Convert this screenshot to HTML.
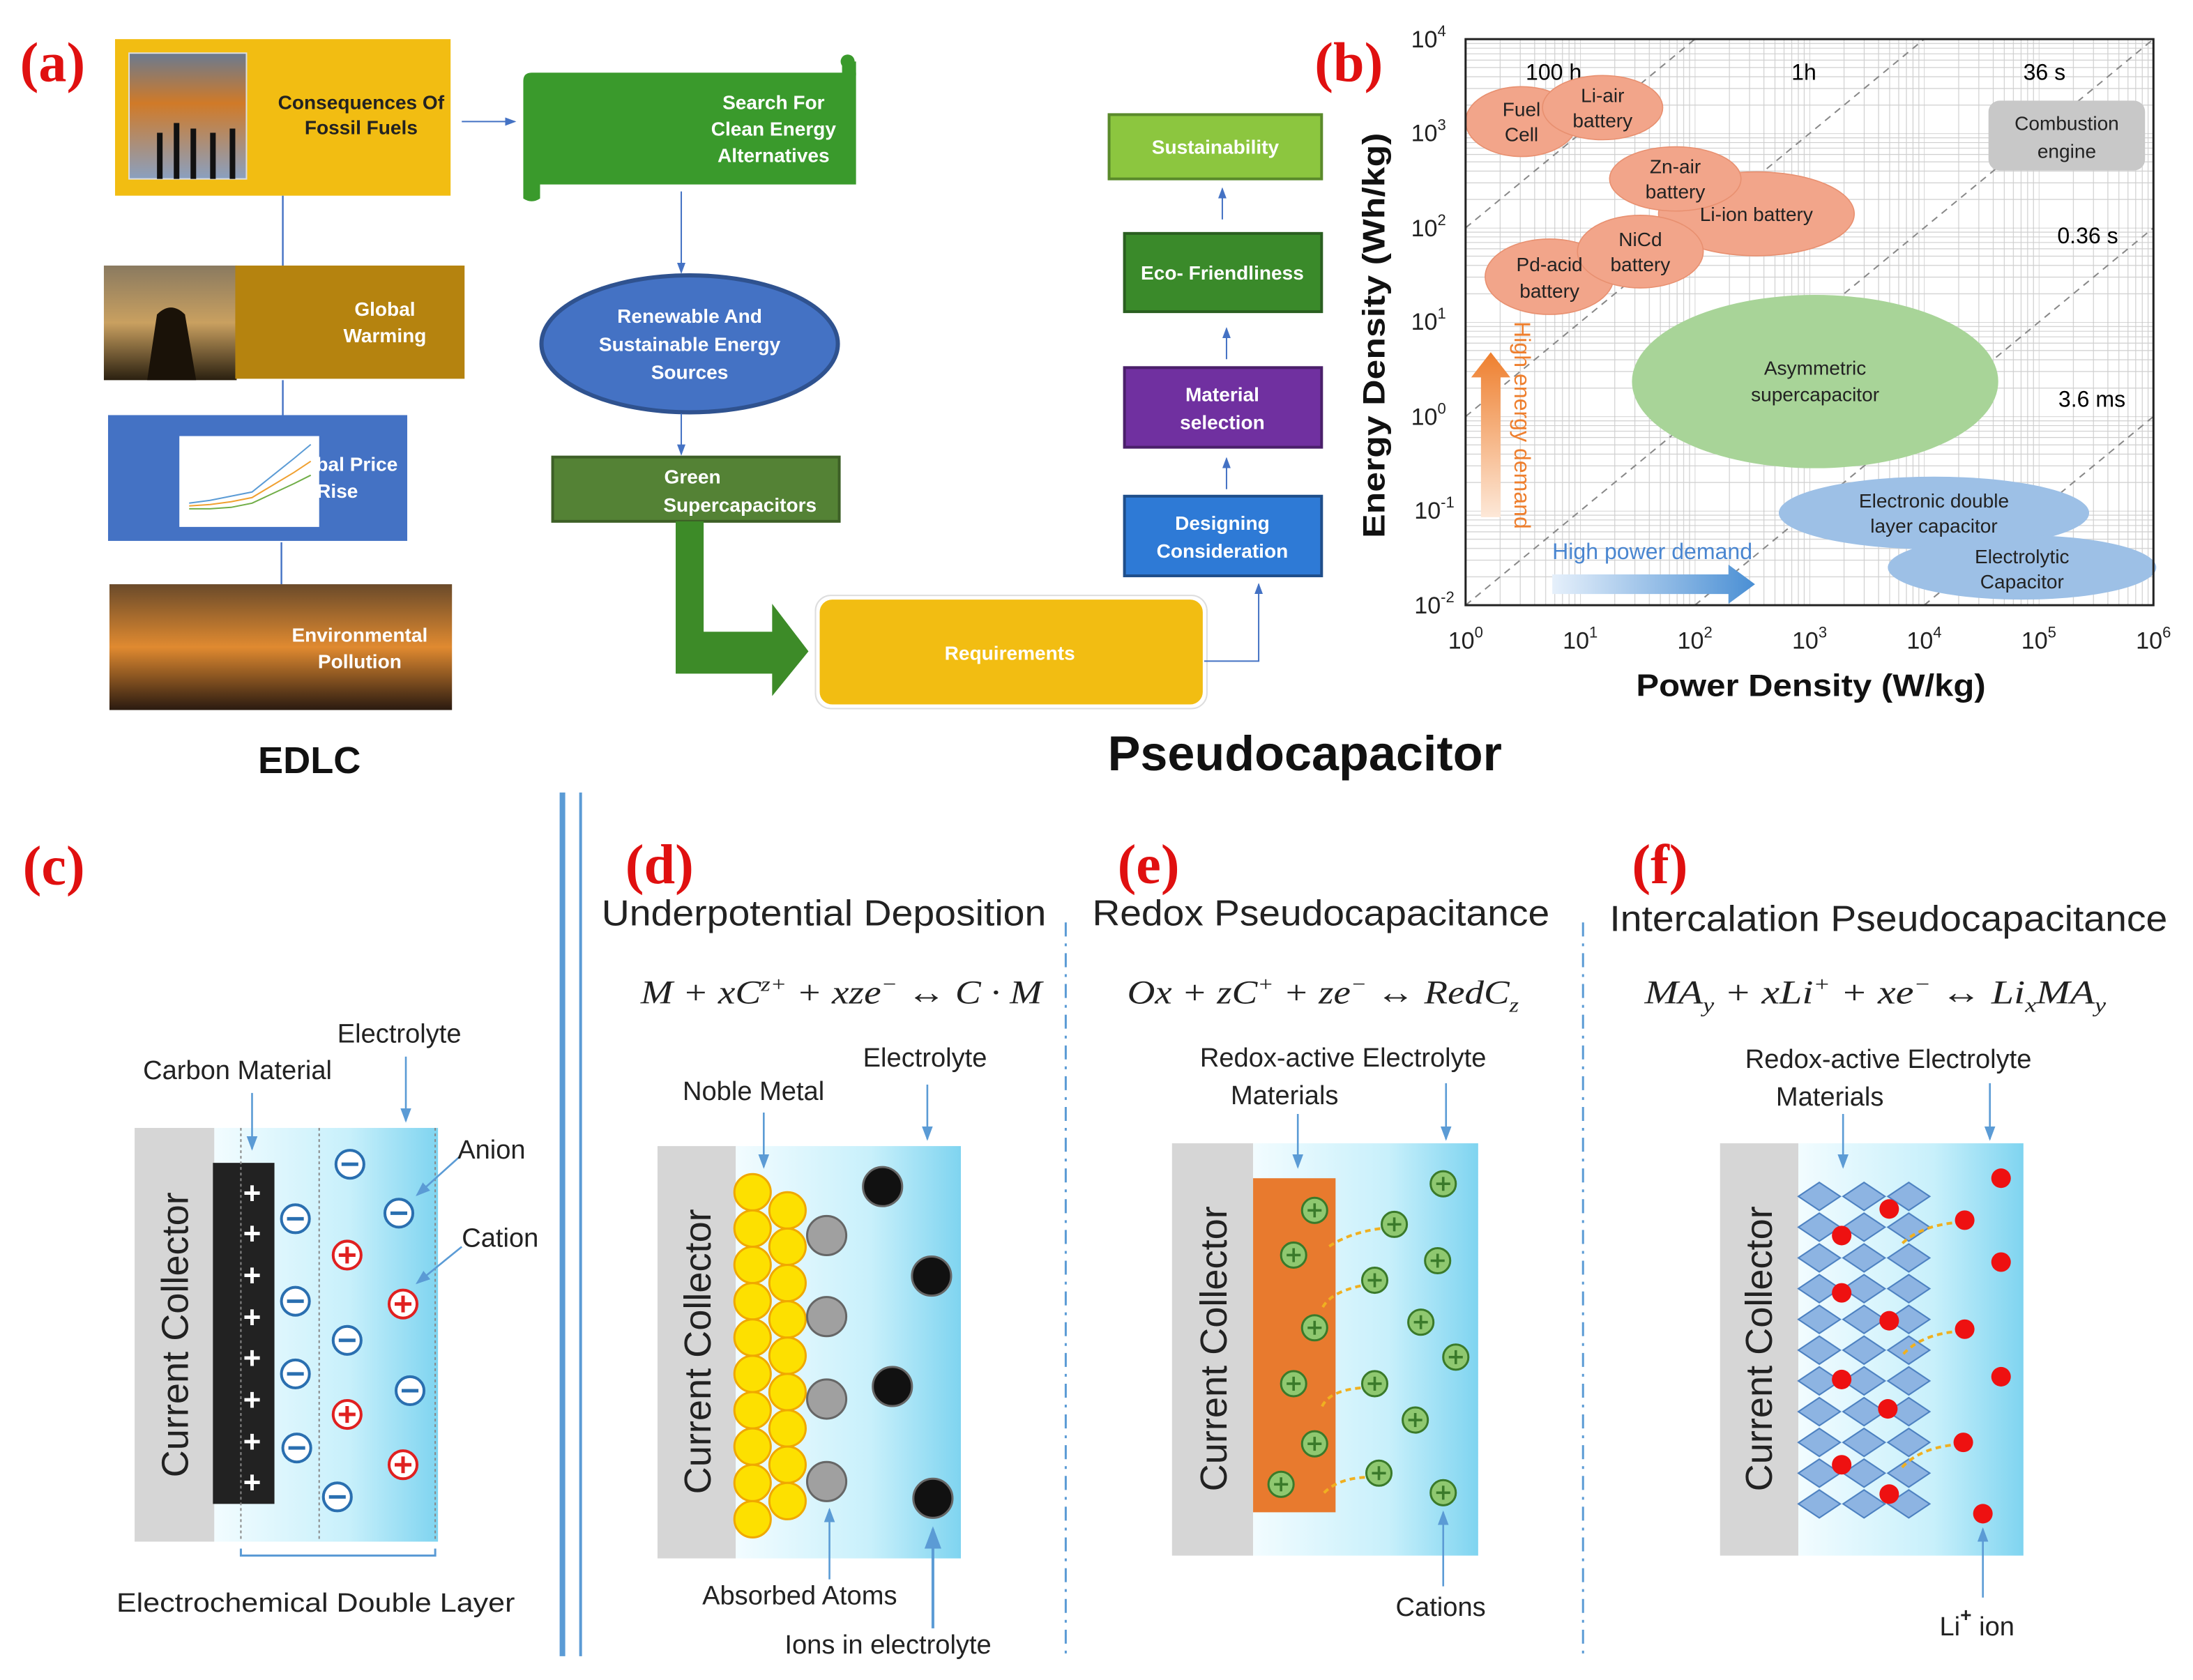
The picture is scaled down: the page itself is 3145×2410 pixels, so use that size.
<!DOCTYPE html>
<html><head><meta charset="utf-8"><style>
html,body{margin:0;padding:0;background:#fff}
svg{display:block}
text{font-family:"Liberation Sans",sans-serif}
.lab{font-family:"Liberation Serif",serif;font-weight:bold;fill:#e01010;font-size:40px}
.w{fill:#fff;font-weight:bold;font-size:14px;text-anchor:middle}
.f{font-family:"Liberation Serif",serif;font-style:italic;font-size:24px;fill:#222}
.s{font-size:19px;fill:#222}
.t{font-size:26px;fill:#222}
.cc{font-size:27px;fill:#222}
.pl{font-size:14px;fill:#222;text-anchor:middle}
</style></head><body>
<svg width="3145" height="2410" viewBox="0 0 1568 1202" xmlns="http://www.w3.org/2000/svg">
<defs>
<linearGradient id="el" x1="0" x2="1"><stop offset="0" stop-color="#f2fcff"/><stop offset="0.6" stop-color="#c8f0fb"/><stop offset="1" stop-color="#7fd4f0"/></linearGradient>
<linearGradient id="smoke" x1="0" y1="0" x2="0" y2="1"><stop offset="0" stop-color="#6a7a90"/><stop offset="0.4" stop-color="#d07a28"/><stop offset="1" stop-color="#8aa0c0"/></linearGradient>
<linearGradient id="gw" x1="0" y1="0" x2="0" y2="1"><stop offset="0" stop-color="#8a7a60"/><stop offset="0.5" stop-color="#c9a060"/><stop offset="1" stop-color="#2a2010"/></linearGradient>
<linearGradient id="pol" x1="0" y1="0" x2="0" y2="1"><stop offset="0" stop-color="#6a4a2a"/><stop offset="0.5" stop-color="#e08a30"/><stop offset="1" stop-color="#2a1a10"/></linearGradient>
<linearGradient id="oa" x1="0" y1="1" x2="0" y2="0"><stop offset="0" stop-color="#fde8d8"/><stop offset="1" stop-color="#ee7f2e"/></linearGradient>
<linearGradient id="ba" x1="0" x2="1"><stop offset="0" stop-color="#e6f0fb"/><stop offset="1" stop-color="#4a8fd4"/></linearGradient>
<pattern id="gx" patternUnits="userSpaceOnUse" x="1048" y="0" width="82" height="10">
<g stroke="#cfcfcf" stroke-width="0.6"><line x1="0" y1="0" x2="0" y2="10" stroke="#bbb"/><line x1="24.7" y1="0" x2="24.7" y2="10"/><line x1="39.1" y1="0" x2="39.1" y2="10"/><line x1="49.4" y1="0" x2="49.4" y2="10"/><line x1="57.3" y1="0" x2="57.3" y2="10"/><line x1="63.8" y1="0" x2="63.8" y2="10"/><line x1="69.3" y1="0" x2="69.3" y2="10"/><line x1="74" y1="0" x2="74" y2="10"/><line x1="78.2" y1="0" x2="78.2" y2="10"/></g></pattern>
<pattern id="gy" patternUnits="userSpaceOnUse" x="0" y="28" width="10" height="67.5">
<g stroke="#cfcfcf" stroke-width="0.6"><line y1="0" x1="0" y2="0" x2="10" stroke="#bbb"/><line y1="3.1" x1="0" y2="3.1" x2="10"/><line y1="6.5" x1="0" y2="6.5" x2="10"/><line y1="10.5" x1="0" y2="10.5" x2="10"/><line y1="15" x1="0" y2="15" x2="10"/><line y1="20.3" x1="0" y2="20.3" x2="10"/><line y1="26.9" x1="0" y2="26.9" x2="10"/><line y1="35.3" x1="0" y2="35.3" x2="10"/><line y1="47.2" x1="0" y2="47.2" x2="10"/></g></pattern>
<pattern id="dia" patternUnits="userSpaceOnUse" x="1285" y="845" width="32" height="22">
<polygon points="16,1 31,11 16,21 1,11" fill="#8db4e2" stroke="#4a7fc0" stroke-width="1"/><polygon points="0,-10 15,0 0,10 -15,0" fill="none"/></pattern>
<marker id="ar" markerWidth="8" markerHeight="8" refX="7" refY="4" orient="auto"><path d="M0,1 L8,4 L0,7z" fill="#4472c4"/></marker>
<marker id="ar2" markerWidth="8" markerHeight="8" refX="7" refY="4" orient="auto"><path d="M0,1 L8,4 L0,7z" fill="#5b9bd5"/></marker>
</defs>

<!-- (a) -->
<text class="lab" x="14" y="58">(a)</text>
<rect x="82" y="28" width="240" height="112" fill="#f2bd12"/>
<rect x="92" y="38" width="84" height="90" fill="url(#smoke)" stroke="#ddd"/>
<g fill="#111"><rect x="112" y="95" width="4" height="33"/><rect x="124" y="88" width="4" height="40"/><rect x="136" y="92" width="4" height="36"/><rect x="150" y="95" width="4" height="33"/><rect x="164" y="92" width="4" height="36"/></g>
<text x="258" y="78" font-size="14" font-weight="bold" text-anchor="middle" fill="#222">Consequences Of</text>
<text x="258" y="96" font-size="14" font-weight="bold" text-anchor="middle" fill="#222">Fossil Fuels</text>
<line x1="330" y1="87" x2="368" y2="87" stroke="#4472c4" marker-end="url(#ar)"/>
<path d="M380,52 L612,52 L612,132 L386,132 L386,142 Q380,146 374,142 L374,58 Q374,52 380,52z" fill="#3a9a2c"/>
<circle cx="606" cy="44" r="5" fill="#3a9a2c"/><rect x="602" y="44" width="10" height="10" fill="#3a9a2c"/>
<text class="w" x="553" y="78">Search For</text><text class="w" x="553" y="97">Clean Energy</text><text class="w" x="553" y="116">Alternatives</text>
<g stroke="#4472c4" stroke-width="1.2"><line x1="202" y1="140" x2="202" y2="190"/><line x1="202" y1="272" x2="202" y2="297"/><line x1="201" y1="388" x2="201" y2="418"/></g>
<rect x="74" y="190" width="95" height="82" fill="url(#gw)"/>
<path d="M105,272 L112,225 Q122,215 132,225 L140,272z" fill="#1a1208"/>
<rect x="168" y="190" width="164" height="81" fill="#b5830f"/>
<text class="w" x="275" y="226">Global</text><text class="w" x="275" y="245">Warming</text>
<rect x="77" y="297" width="214" height="90" fill="#4472c4"/>
<rect x="128" y="312" width="100" height="65" fill="#fff"/>
<polyline points="135,360 150,358 165,355 180,352 195,340 210,328 222,318" fill="none" stroke="#5b9bd5"/>
<polyline points="135,362 150,361 165,359 180,356 195,347 210,338 222,330" fill="none" stroke="#f0a030"/>
<polyline points="135,364 150,364 165,363 180,360 195,353 210,346 222,340" fill="none" stroke="#70ad47"/>
<text class="w" x="255" y="337">bal Price</text><text class="w" x="241" y="356">Rise</text>
<rect x="78" y="418" width="245" height="90" fill="url(#pol)"/>
<text class="w" x="257" y="459">Environmental</text><text class="w" x="257" y="478">Pollution</text>
<line x1="487" y1="137" x2="487" y2="195" stroke="#4472c4" marker-end="url(#ar)"/>
<ellipse cx="493" cy="246" rx="106" ry="49" fill="#4472c4" stroke="#2f528f" stroke-width="3"/>
<text class="w" x="493" y="231">Renewable And</text><text class="w" x="493" y="251">Sustainable Energy</text><text class="w" x="493" y="271">Sources</text>
<line x1="487" y1="296" x2="487" y2="325" stroke="#4472c4" marker-end="url(#ar)"/>
<rect x="395" y="327" width="205" height="46" fill="#548235" stroke="#3d5f26" stroke-width="2"/>
<text class="w" x="495" y="346">Green</text><text class="w" x="529" y="366">Supercapacitors</text>
<polygon points="483,373 503,373 503,452 552,452 552,432 578,466 552,498 552,482 483,482" fill="#3d8b28"/>
<rect x="585" y="428" width="276" height="77" rx="10" fill="#f2bd12" stroke="#fff" stroke-width="2"/>
<rect x="583" y="426" width="280" height="81" rx="11" fill="none" stroke="#ddd" stroke-width="1"/>
<text class="w" x="722" y="472">Requirements</text>
<polyline points="861,473 900,473 900,418" fill="none" stroke="#4472c4" marker-end="url(#ar)"/>
<rect x="804" y="355" width="141" height="57" fill="#2e7ad6" stroke="#1f4e8a" stroke-width="2"/>
<text class="w" x="874" y="379">Designing</text><text class="w" x="874" y="399">Consideration</text>
<line x1="877" y1="350" x2="877" y2="328" stroke="#4472c4" marker-end="url(#ar)"/>
<rect x="804" y="263" width="141" height="57" fill="#7030a0" stroke="#4a1f6a" stroke-width="2"/>
<text class="w" x="874" y="287">Material</text><text class="w" x="874" y="307">selection</text>
<line x1="877" y1="257" x2="877" y2="235" stroke="#4472c4" marker-end="url(#ar)"/>
<rect x="804" y="167" width="141" height="56" fill="#3a8a2a" stroke="#2a5e20" stroke-width="2"/>
<text class="w" x="874" y="200">Eco- Friendliness</text>
<line x1="874" y1="157" x2="874" y2="135" stroke="#4472c4" marker-end="url(#ar)"/>
<rect x="793" y="82" width="152" height="46" fill="#8cc63f" stroke="#5a8a2a" stroke-width="2"/>
<text class="w" x="869" y="110">Sustainability</text>

<text x="221" y="553" font-size="27" font-weight="bold" text-anchor="middle" fill="#111">EDLC</text>
<text x="933" y="551" font-size="35" font-weight="bold" text-anchor="middle" fill="#111">Pseudocapacitor</text>

<!-- (b) -->
<text class="lab" x="940" y="58">(b)</text>
<rect x="1048" y="28" width="492" height="405" fill="#fff"/>
<rect x="1048" y="28" width="492" height="405" fill="url(#gx)"/>
<rect x="1048" y="28" width="492" height="405" fill="url(#gy)"/>
<g stroke="#888" stroke-dasharray="5,4" stroke-width="1"><line x1="1048" y1="163" x2="1212" y2="28"/><line x1="1048" y1="298" x2="1376" y2="28"/><line x1="1048" y1="433" x2="1540" y2="28"/><line x1="1212" y1="433" x2="1540" y2="163"/><line x1="1376" y1="433" x2="1540" y2="298"/></g>
<text x="1111" y="57" font-size="16" text-anchor="middle">100 h</text><text x="1290" y="57" font-size="16" text-anchor="middle">1h</text><text x="1462" y="57" font-size="16" text-anchor="middle">36 s</text>
<text x="1493" y="174" font-size="16" text-anchor="middle">0.36 s</text><text x="1496" y="291" font-size="16" text-anchor="middle">3.6 ms</text>
<rect x="1422" y="72" width="112" height="50" rx="8" fill="#c8c8c8"/>
<text class="pl" x="1478" y="93" font-size="15">Combustion</text><text class="pl" x="1478" y="113" font-size="15">engine</text>
<g fill="#f2a58a" stroke="#e89070" stroke-width="0.8">
<ellipse cx="1088" cy="87" rx="40" ry="25"/><ellipse cx="1146" cy="77" rx="43" ry="23"/>
<ellipse cx="1256" cy="153" rx="70" ry="30"/><ellipse cx="1198" cy="128" rx="47" ry="23"/>
<ellipse cx="1108" cy="198" rx="46" ry="27"/><ellipse cx="1173" cy="180" rx="45" ry="26"/></g>
<text class="pl" x="1088" y="83">Fuel</text><text class="pl" x="1088" y="101">Cell</text>
<text class="pl" x="1146" y="73">Li-air</text><text class="pl" x="1146" y="91">battery</text>
<text class="pl" x="1198" y="124">Zn-air</text><text class="pl" x="1198" y="142">battery</text>
<text class="pl" x="1256" y="158">Li-ion battery</text>
<text class="pl" x="1173" y="176">NiCd</text><text class="pl" x="1173" y="194">battery</text>
<text class="pl" x="1108" y="194">Pd-acid</text><text class="pl" x="1108" y="213">battery</text>
<ellipse cx="1298" cy="273" rx="131" ry="62" fill="#a8d498"/>
<text class="pl" x="1298" y="268">Asymmetric</text><text class="pl" x="1298" y="287">supercapacitor</text>
<ellipse cx="1383" cy="367" rx="111" ry="26" fill="#9dc0e6"/>
<text class="pl" x="1383" y="363">Electronic double</text><text class="pl" x="1383" y="381">layer capacitor</text>
<ellipse cx="1446" cy="406" rx="96" ry="23" fill="#9dc0e6"/>
<text class="pl" x="1446" y="403">Electrolytic</text><text class="pl" x="1446" y="421">Capacitor</text>
<polygon points="1059,370 1073,370 1073,270 1080,270 1066,252 1052,270 1059,270" fill="url(#oa)"/>
<text transform="translate(1083,230) rotate(90)" font-size="16" fill="#ee7f2e">High energy demand</text>
<polygon points="1110,411 1236,411 1236,404 1255,418 1236,432 1236,425 1110,425" fill="url(#ba)"/>
<text x="1110" y="400" font-size="16" fill="#4a86d0">High power demand</text>
<rect x="1048" y="28" width="492" height="405" fill="none" stroke="#222" stroke-width="1.5"/>
<g font-size="17" text-anchor="middle" fill="#222">
<text x="1048" y="464">10<tspan dy="-8" font-size="11">0</tspan></text><text x="1130" y="464">10<tspan dy="-8" font-size="11">1</tspan></text><text x="1212" y="464">10<tspan dy="-8" font-size="11">2</tspan></text><text x="1294" y="464">10<tspan dy="-8" font-size="11">3</tspan></text><text x="1376" y="464">10<tspan dy="-8" font-size="11">4</tspan></text><text x="1458" y="464">10<tspan dy="-8" font-size="11">5</tspan></text><text x="1540" y="464">10<tspan dy="-8" font-size="11">6</tspan></text></g>
<g font-size="17" text-anchor="end" fill="#222">
<text x="1034" y="34">10<tspan dy="-8" font-size="11">4</tspan></text><text x="1034" y="101">10<tspan dy="-8" font-size="11">3</tspan></text><text x="1034" y="169">10<tspan dy="-8" font-size="11">2</tspan></text><text x="1034" y="236">10<tspan dy="-8" font-size="11">1</tspan></text><text x="1034" y="304">10<tspan dy="-8" font-size="11">0</tspan></text><text x="1040" y="371">10<tspan dy="-8" font-size="11">-1</tspan></text><text x="1040" y="439">10<tspan dy="-8" font-size="11">-2</tspan></text></g>
<text x="1170" y="498" font-size="22" font-weight="bold" fill="#111" textLength="250" lengthAdjust="spacingAndGlyphs">Power Density (W/kg)</text>
<text transform="translate(990,385) rotate(-90)" font-size="22" font-weight="bold" fill="#111" textLength="290" lengthAdjust="spacingAndGlyphs">Energy Density (Wh/kg)</text>

<!-- separators -->
<line x1="402" y1="567" x2="402" y2="1185" stroke="#5b9bd5" stroke-width="4"/>
<line x1="415" y1="567" x2="415" y2="1185" stroke="#5b9bd5" stroke-width="2"/>
<g stroke="#5b9bd5" stroke-width="1.5" stroke-dasharray="10,5,2,5"><line x1="762" y1="660" x2="762" y2="1185"/><line x1="1132" y1="660" x2="1132" y2="1185"/></g>

<!-- (c) -->
<text class="lab" x="16" y="633">(c)</text>
<rect x="96" y="807" width="57" height="296" fill="#d6d6d6"/>
<rect x="153" y="807" width="160" height="296" fill="url(#el)"/>
<rect x="152" y="832" width="44" height="244" fill="#222"/>
<text class="cc" transform="translate(134,955) rotate(-90)" text-anchor="middle">Current Collector</text>
<g fill="#fff" font-size="22" font-weight="bold" text-anchor="middle"><text x="180" y="861">+</text><text x="180" y="890">+</text><text x="180" y="920">+</text><text x="180" y="950">+</text><text x="180" y="979">+</text><text x="180" y="1009">+</text><text x="180" y="1039">+</text><text x="180" y="1068">+</text></g>
<g stroke="#888" stroke-dasharray="2,2"><line x1="172" y1="807" x2="172" y2="1103"/><line x1="228" y1="807" x2="228" y2="1103"/><line x1="311" y1="807" x2="311" y2="1103"/></g>
<g fill="#fff" stroke="#2a6fb0" stroke-width="2">
<circle cx="211" cy="872" r="10"/><circle cx="250" cy="833" r="10"/><circle cx="211" cy="931" r="10"/><circle cx="248" cy="959" r="10"/><circle cx="211" cy="983" r="10"/><circle cx="212" cy="1036" r="10"/><circle cx="241" cy="1071" r="10"/><circle cx="285" cy="868" r="10"/><circle cx="293" cy="995" r="10"/></g>
<g stroke="#2a6fb0" stroke-width="2.5">
<line x1="205" y1="872" x2="217" y2="872"/><line x1="244" y1="833" x2="256" y2="833"/><line x1="205" y1="931" x2="217" y2="931"/><line x1="242" y1="959" x2="254" y2="959"/><line x1="205" y1="983" x2="217" y2="983"/><line x1="206" y1="1036" x2="218" y2="1036"/><line x1="235" y1="1071" x2="247" y2="1071"/><line x1="279" y1="868" x2="291" y2="868"/><line x1="287" y1="995" x2="299" y2="995"/></g>
<g fill="#fff" stroke="#e02020" stroke-width="2"><circle cx="248" cy="898" r="10"/><circle cx="288" cy="933" r="10"/><circle cx="248" cy="1012" r="10"/><circle cx="288" cy="1048" r="10"/></g>
<g stroke="#e02020" stroke-width="2.5"><path d="M242,898h12M248,892v12M282,933h12M288,927v12M242,1012h12M248,1006v12M282,1048h12M288,1042v12"/></g>
<g stroke="#5b9bd5" stroke-width="1.3"><line x1="180" y1="782" x2="180" y2="822" marker-end="url(#ar2)"/><line x1="290" y1="756" x2="290" y2="802" marker-end="url(#ar2)"/><line x1="328" y1="828" x2="298" y2="855" marker-end="url(#ar2)"/><line x1="330" y1="892" x2="298" y2="918" marker-end="url(#ar2)"/></g>
<text class="s" x="102" y="772">Carbon Material</text><text class="s" x="241" y="746">Electrolyte</text>
<text class="s" x="327" y="829">Anion</text><text class="s" x="330" y="892">Cation</text>
<path d="M172,1108 v5 h139 v-5" fill="none" stroke="#5b9bd5" stroke-width="1.5"/>
<text class="s" x="83" y="1153" textLength="285" lengthAdjust="spacingAndGlyphs">Electrochemical Double Layer</text>

<!-- (d) -->
<text class="lab" x="447" y="632">(d)</text>
<text class="t" x="430" y="662" textLength="318" lengthAdjust="spacingAndGlyphs">Underpotential Deposition</text>
<text class="f" x="458" y="718" textLength="287" lengthAdjust="spacingAndGlyphs">M + xC<tspan dy="-9" font-size="15">z+</tspan><tspan dy="9"> + xze</tspan><tspan dy="-9" font-size="15">−</tspan><tspan dy="9"> ↔ C · M</tspan></text>
<rect x="470" y="820" width="56" height="295" fill="#d6d6d6"/>
<rect x="526" y="820" width="161" height="295" fill="url(#el)"/>
<text class="cc" transform="translate(508,967) rotate(-90)" text-anchor="middle">Current Collector</text>
<g fill="#fde000" stroke="#f0a800" stroke-width="1.5">
<circle cx="538" cy="853" r="13"/><circle cx="538" cy="879" r="13"/><circle cx="538" cy="905" r="13"/><circle cx="538" cy="931" r="13"/><circle cx="538" cy="957" r="13"/><circle cx="538" cy="983" r="13"/><circle cx="538" cy="1009" r="13"/><circle cx="538" cy="1035" r="13"/><circle cx="538" cy="1061" r="13"/><circle cx="538" cy="1087" r="13"/>
<circle cx="563" cy="866" r="13"/><circle cx="563" cy="892" r="13"/><circle cx="563" cy="918" r="13"/><circle cx="563" cy="944" r="13"/><circle cx="563" cy="970" r="13"/><circle cx="563" cy="996" r="13"/><circle cx="563" cy="1022" r="13"/><circle cx="563" cy="1048" r="13"/><circle cx="563" cy="1074" r="13"/></g>
<g fill="#a0a0a0" stroke="#666" stroke-width="1.5"><circle cx="591" cy="884" r="14"/><circle cx="591" cy="942" r="14"/><circle cx="591" cy="1001" r="14"/><circle cx="591" cy="1060" r="14"/></g>
<g fill="#111" stroke="#666" stroke-width="1.5"><circle cx="631" cy="849" r="14"/><circle cx="666" cy="913" r="14"/><circle cx="638" cy="992" r="14"/><circle cx="667" cy="1072" r="14"/></g>
<g stroke="#5b9bd5" stroke-width="1.3"><line x1="546" y1="796" x2="546" y2="835" marker-end="url(#ar2)"/><line x1="663" y1="776" x2="663" y2="815" marker-end="url(#ar2)"/><line x1="593" y1="1130" x2="593" y2="1080" marker-end="url(#ar2)"/><line x1="667" y1="1165" x2="667" y2="1094" marker-end="url(#ar2)" stroke-width="2"/></g>
<text class="s" x="488" y="787">Noble Metal</text><text class="s" x="617" y="763">Electrolyte</text>
<text class="s" x="502" y="1148">Absorbed Atoms</text><text class="s" x="561" y="1183">Ions in electrolyte</text>

<!-- (e) -->
<text class="lab" x="799" y="632">(e)</text>
<text class="t" x="781" y="662" textLength="327" lengthAdjust="spacingAndGlyphs">Redox Pseudocapacitance</text>
<text class="f" x="806" y="718" textLength="280" lengthAdjust="spacingAndGlyphs">Ox + zC<tspan dy="-9" font-size="15">+</tspan><tspan dy="9"> + ze</tspan><tspan dy="-9" font-size="15">−</tspan><tspan dy="9"> ↔ RedC</tspan><tspan dy="6" font-size="15">z</tspan></text>
<rect x="838" y="818" width="58" height="295" fill="#d6d6d6"/>
<rect x="896" y="818" width="161" height="295" fill="url(#el)"/>
<rect x="896" y="843" width="59" height="239" fill="#e87a2e"/>
<text class="cc" transform="translate(877,965) rotate(-90)" text-anchor="middle">Current Collector</text>
<g fill="#8fc870" stroke="#3a7a2a" stroke-width="1.5">
<circle cx="940" cy="866" r="9"/><circle cx="925" cy="898" r="9"/><circle cx="940" cy="950" r="9"/><circle cx="925" cy="990" r="9"/><circle cx="940" cy="1033" r="9"/><circle cx="916" cy="1062" r="9"/>
<circle cx="997" cy="876" r="9"/><circle cx="983" cy="916" r="9"/><circle cx="983" cy="990" r="9"/><circle cx="986" cy="1054" r="9"/>
<circle cx="1032" cy="847" r="9"/><circle cx="1028" cy="902" r="9"/><circle cx="1016" cy="946" r="9"/><circle cx="1041" cy="971" r="9"/><circle cx="1012" cy="1016" r="9"/><circle cx="1032" cy="1068" r="9"/></g>
<g stroke="#3a7a2a" stroke-width="1.8"><path d="M935,866h10M940,861v10M920,898h10M925,893v10M935,950h10M940,945v10M920,990h10M925,985v10M935,1033h10M940,1028v10M911,1062h10M916,1057v10M992,876h10M997,871v10M978,916h10M983,911v10M978,990h10M983,985v10M981,1054h10M986,1049v10M1027,847h10M1032,842v10M1023,902h10M1028,897v10M1011,946h10M1016,941v10M1036,971h10M1041,966v10M1007,1016h10M1012,1011v10M1027,1068h10M1032,1063v10"/></g>
<g fill="none" stroke="#f0b020" stroke-width="2" stroke-dasharray="4,3"><path d="M987,879 Q965,882 950,892"/><path d="M973,920 Q950,925 945,937"/><path d="M973,993 Q950,995 945,1007"/><path d="M976,1057 Q955,1058 945,1070"/></g>
<g stroke="#5b9bd5" stroke-width="1.3"><line x1="928" y1="797" x2="928" y2="835" marker-end="url(#ar2)"/><line x1="1034" y1="775" x2="1034" y2="815" marker-end="url(#ar2)"/><line x1="1032" y1="1135" x2="1032" y2="1082" marker-end="url(#ar2)"/></g>
<text class="s" x="858" y="763">Redox-active Electrolyte</text><text class="s" x="880" y="790">Materials</text>
<text class="s" x="998" y="1156">Cations</text>

<!-- (f) -->
<text class="lab" x="1167" y="632">(f)</text>
<text class="t" x="1151" y="666" textLength="399" lengthAdjust="spacingAndGlyphs">Intercalation Pseudocapacitance</text>
<text class="f" x="1176" y="718" textLength="330" lengthAdjust="spacingAndGlyphs">MA<tspan dy="6" font-size="15">y</tspan><tspan dy="-6"> + xLi</tspan><tspan dy="-9" font-size="15">+</tspan><tspan dy="9"> + xe</tspan><tspan dy="-9" font-size="15">−</tspan><tspan dy="9"> ↔ Li</tspan><tspan dy="6" font-size="15">x</tspan><tspan dy="-6">MA</tspan><tspan dy="6" font-size="15">y</tspan></text>
<rect x="1230" y="818" width="56" height="295" fill="#d6d6d6"/>
<rect x="1286" y="818" width="161" height="295" fill="url(#el)"/>
<rect x="1285" y="845" width="96" height="242" fill="url(#dia)"/>
<text class="cc" transform="translate(1267,965) rotate(-90)" text-anchor="middle">Current Collector</text>
<g fill="#ee1111"><circle cx="1351" cy="865" r="7"/><circle cx="1317" cy="884" r="7"/><circle cx="1317" cy="925" r="7"/><circle cx="1351" cy="945" r="7"/><circle cx="1317" cy="987" r="7"/><circle cx="1350" cy="1008" r="7"/><circle cx="1317" cy="1048" r="7"/><circle cx="1351" cy="1069" r="7"/>
<circle cx="1431" cy="843" r="7"/><circle cx="1405" cy="873" r="7"/><circle cx="1431" cy="903" r="7"/><circle cx="1405" cy="951" r="7"/><circle cx="1431" cy="985" r="7"/><circle cx="1404" cy="1032" r="7"/><circle cx="1418" cy="1083" r="7"/></g>
<g fill="none" stroke="#f0b020" stroke-width="2" stroke-dasharray="4,3"><path d="M1396,875 Q1372,878 1360,890"/><path d="M1396,953 Q1372,956 1360,970"/><path d="M1395,1034 Q1372,1037 1360,1050"/></g>
<g stroke="#5b9bd5" stroke-width="1.3"><line x1="1318" y1="797" x2="1318" y2="835" marker-end="url(#ar2)"/><line x1="1423" y1="775" x2="1423" y2="815" marker-end="url(#ar2)"/><line x1="1418" y1="1143" x2="1418" y2="1094" marker-end="url(#ar2)"/></g>
<text class="s" x="1248" y="764">Redox-active Electrolyte</text><text class="s" x="1270" y="791">Materials</text>
<text class="s" x="1387" y="1170">Li<tspan dy="-10" font-size="14" font-weight="bold">+</tspan><tspan dy="10"> ion</tspan></text>
</svg>
</body></html>
